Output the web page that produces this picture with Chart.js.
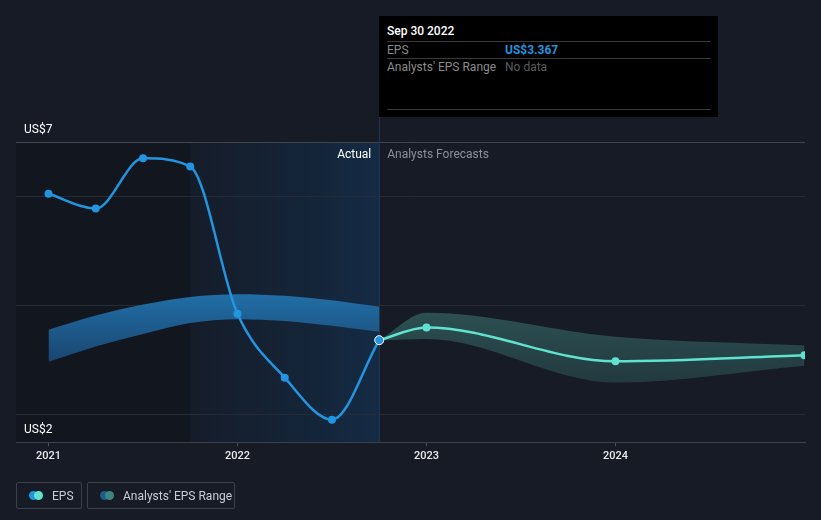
<!DOCTYPE html>
<html lang="en">
<head>
<meta charset="UTF-8">
<title>EPS - Actual and Forecasts</title>
<script src="https://cdn.jsdelivr.net/npm/chart.js@4.4.0/dist/chart.umd.min.js"></script>
<style>
    body {
        margin: 0;
        background-color: #161b26;
        font-family: Roboto, 'Noto Sans', sans-serif;
        overflow: hidden;
    }
    .wrap {
        position: relative;
        width: 821px;
        height: 520px;
    }
    .tip {
        position: absolute;
        left: 379px;
        top: 16px;
        width: 339px;
        height: 101px;
        background: #000;
        color: #fff;
        font-size: 12px;
    }
    .tip .title { position: absolute; left: 8px; top: 8px; font-weight: 500; }
    .tip .sep { position: absolute; left: 8px; width: 324px; height: 1px; background: #3a3a3a; }
    .tip .lbl { position: absolute; left: 8px; color: #8b8b8b; }
    .tip .val { position: absolute; left: 126px; }
    .legend {
        position: absolute;
        top: 482px;
        left: 16px;
        display: flex;
        gap: 5px;
    }
    .legend > div {
        height: 27px;
        border: 1px solid #3b404a;
        border-radius: 2px;
        color: #c9cdd3;
        font-size: 12px;
        display: flex;
        align-items: center;
        box-sizing: border-box;
        padding: 0 0 0 12px;
        white-space: nowrap;
        flex-shrink: 0;
    }
    .dot { display: inline-block; flex-shrink: 0; width: 9px; height: 9px; border-radius: 50%; }
</style>
</head>
<body>
<div class="wrap">
    <canvas id="epsChart" width="821" height="520"></canvas>

    <div class="tip">
        <div class="title">Sep 30 2022</div>
        <div class="sep" style="top:25px"></div>
        <div class="lbl" style="top:27px">EPS</div>
        <div class="val" style="top:27px;color:#2394df;font-weight:700">US$3.367</div>
        <div class="sep" style="top:42px"></div>
        <div class="lbl" style="top:44px">Analysts' EPS Range</div>
        <div class="val" style="top:44px;color:#5c5c5c">No data</div>
        <div class="sep" style="top:93px"></div>
    </div>

    <div class="legend">
        <div style="width:66px"><span class="dot" style="background:#2394df"></span><span class="dot" style="background:#5fe3cf;margin-left:-4px"></span><span style="margin-left:9px">EPS</span></div>
        <div style="width:148px"><span class="dot" style="background:#1f5c8c"></span><span class="dot" style="background:#3d8680;margin-left:-4px"></span><span style="margin-left:9px">Analysts' EPS Range</span></div>
    </div>
</div>

<script>
    // actual EPS, quarterly (decimal years)
    const actualDates = [2021.0, 2021.25, 2021.5, 2021.75, 2022.0, 2022.25, 2022.5, 2022.75];
    const actualEps = [6.05, 5.78, 6.70, 6.55, 3.85, 2.68, 1.91, 3.367];
    const pastRangeHigh = [3.56, 3.82, 4.02, 4.16, 4.21, 4.18, 4.10, 3.98];
    const pastRangeLow = [2.97, 3.25, 3.48, 3.68, 3.75, 3.72, 3.63, 3.52];

    // analysts forecasts
    const forecastDates = [2022.75, 2023.0, 2024.0, 2025.0];
    const forecastEps = [3.367, 3.60, 2.98, 3.09];
    const forecastHigh = [3.367, 3.87, 3.43, 3.27];
    const forecastLow = [3.367, 3.39, 2.59, 2.90];

    const yearTicks = [2021, 2022, 2023, 2024];
    const yGrid = [2, 4, 6, 7];
    const yLabels = {7: 'US$7', 2: 'US$2'};
    const todayX = 2022.75;
    const highlightFrom = 2021.75;

    const pts = (xs, ys) => xs.map((x, i) => ({x: x, y: ys[i]}));

    function vGradient(ctx, y0, y1, c0, c1) {
        const chart = ctx.chart;
        if (!chart.chartArea) return c0;
        const s = chart.scales.y;
        const g = chart.ctx.createLinearGradient(0, s.getPixelForValue(y0), 0, s.getPixelForValue(y1));
        g.addColorStop(0, c0);
        g.addColorStop(1, c1);
        return g;
    }

    const backdrop = {
        id: 'backdrop',
        beforeDraw(chart) {
            const {ctx, chartArea: a, scales: {x}} = chart;
            ctx.save();
            ctx.fillStyle = '#161b26';
            ctx.fillRect(0, 0, chart.width, chart.height);
            const hx = x.getPixelForValue(highlightFrom);
            const tx = x.getPixelForValue(todayX);
            ctx.fillStyle = '#12161e';
            ctx.fillRect(a.left, a.top, hx - a.left, a.bottom - a.top);
            const g = ctx.createLinearGradient(hx, 0, tx, 0);
            g.addColorStop(0, 'rgba(20,30,45,0.6)');
            g.addColorStop(1, 'rgba(20,45,72,0.9)');
            ctx.fillStyle = g;
            ctx.fillRect(hx, a.top, tx - hx, a.bottom - a.top);
            ctx.restore();
        },
        beforeDatasetsDraw(chart) {
            const {ctx, chartArea: a, scales: {x}} = chart;
            const tx = Math.round(x.getPixelForValue(todayX)) + 0.5;
            ctx.save();
            ctx.strokeStyle = '#1f3550';
            ctx.lineWidth = 1;
            ctx.beginPath();
            ctx.moveTo(tx, 117);
            ctx.lineTo(tx, a.bottom);
            ctx.stroke();
            ctx.restore();
        },
        afterDraw(chart) {
            const {ctx, chartArea: a, scales: {x, y}} = chart;
            const tx = x.getPixelForValue(todayX);
            ctx.save();
            ctx.font = '12px Roboto';
            ctx.textBaseline = 'middle';
            ctx.fillStyle = '#ffffff';
            ctx.textAlign = 'right';
            ctx.fillText('Actual', tx - 8, a.top + 13);
            ctx.fillStyle = '#8c9199';
            ctx.textAlign = 'left';
            ctx.fillText('Analysts Forecasts', tx + 8, a.top + 13);
            ctx.fillStyle = '#ffffff';
            ctx.fillText(yLabels[7], a.left + 8, y.getPixelForValue(7) - 12);
            ctx.fillText(yLabels[2], a.left + 8, a.bottom - 12);
            ctx.restore();
        }
    };

    const ctx = document.getElementById('epsChart').getContext('2d');
    new Chart(ctx, {
        type: 'line',
        data: {
            datasets: [
                {
                    label: 'EPS',
                    data: pts(actualDates, actualEps),
                    borderColor: '#2394df',
                    backgroundColor: '#2394df',
                    borderWidth: 2.5,
                    cubicInterpolationMode: 'monotone',
                    pointRadius: actualDates.map((d, i) => i === actualDates.length - 1 ? 4.5 : 4),
                    pointBorderColor: actualDates.map((d, i) => i === actualDates.length - 1 ? '#ffffff' : '#2394df'),
                    pointBorderWidth: actualDates.map((d, i) => i === actualDates.length - 1 ? 1 : 0),
                    fill: false
                },
                {
                    label: 'EPS forecast',
                    data: pts(forecastDates, forecastEps),
                    borderColor: '#5fe3cf',
                    backgroundColor: '#5fe3cf',
                    borderWidth: 2.5,
                    cubicInterpolationMode: 'monotone',
                    pointRadius: forecastDates.map((d, i) => i === 0 ? 0 : 4),
                    pointBorderWidth: 0,
                    fill: false
                },
                {
                    label: 'Range high',
                    data: pts(actualDates, pastRangeHigh),
                    borderWidth: 0,
                    pointRadius: 0,
                    cubicInterpolationMode: 'monotone',
                    backgroundColor: c => vGradient(c, 4.2, 3.0, '#216ea6', '#1a4672'),
                    fill: '+1'
                },
                {
                    label: 'Range low',
                    data: pts(actualDates, pastRangeLow),
                    borderWidth: 0,
                    pointRadius: 0,
                    cubicInterpolationMode: 'monotone',
                    fill: false
                },
                {
                    label: 'Forecast high',
                    data: pts(forecastDates, forecastHigh),
                    borderWidth: 0,
                    pointRadius: 0,
                    cubicInterpolationMode: 'monotone',
                    backgroundColor: c => vGradient(c, 3.9, 2.6, '#2d5052', '#223a3f'),
                    fill: '+1'
                },
                {
                    label: 'Forecast low',
                    data: pts(forecastDates, forecastLow),
                    borderWidth: 0,
                    pointRadius: 0,
                    cubicInterpolationMode: 'monotone',
                    fill: false
                }
            ]
        },
        options: {
            responsive: false,
            animation: false,
            events: [],
            layout: {padding: {top: 142, right: 16, left: 0, bottom: 0}},
            plugins: {legend: {display: false}, tooltip: {enabled: false}},
            scales: {
                x: {
                    type: 'linear',
                    min: 2020.828,
                    max: 2025.003,
                    afterBuildTicks: s => { s.ticks = yearTicks.map(v => ({value: v})); },
                    afterFit: s => { s.height = 78; },
                    grid: {drawOnChartArea: false, drawTicks: true, tickLength: 4, color: '#4a4f58'},
                    border: {display: true, color: '#3b404a'},
                    ticks: {
                        color: '#e8eaed',
                        font: {family: 'Roboto', size: 11, weight: 500},
                        padding: 4,
                        maxRotation: 0,
                        callback: v => String(v)
                    }
                },
                y: {
                    min: 1.5,
                    max: 7,
                    afterBuildTicks: s => { s.ticks = yGrid.map(v => ({value: v})); },
                    afterFit: s => { s.width = 16; },
                    grid: {
                        drawTicks: false,
                        color: c => c.tick && c.tick.value === 7 ? '#40454e' : '#252a34'
                    },
                    border: {display: false},
                    ticks: {display: false}
                }
            }
        },
        plugins: [backdrop]
    });
</script>
</body>
</html>
